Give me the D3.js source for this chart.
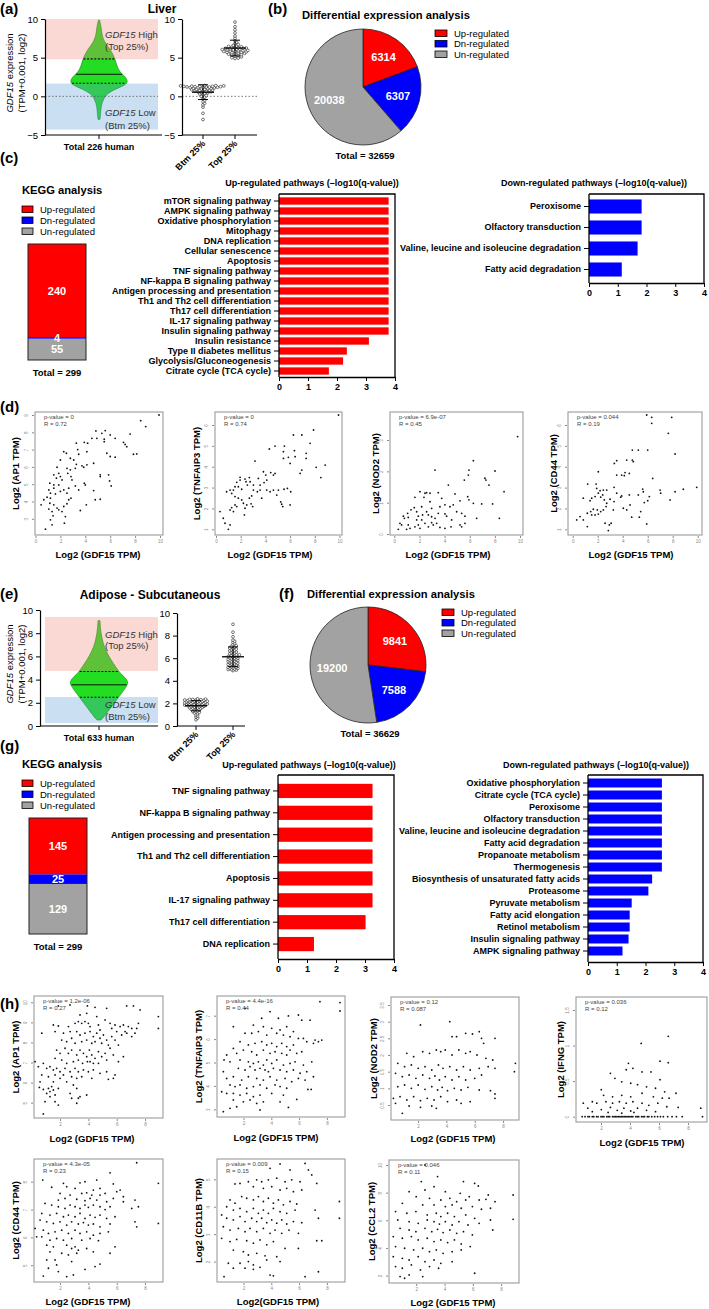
<!DOCTYPE html>
<html><head><meta charset="utf-8">
<script src="https://cdn.jsdelivr.net/npm/d3@7"></script>
<style>body{margin:0;background:#fff}svg{display:block}</style>
</head><body><svg id="c" width="709" height="1309"></svg>
<script>
// ---------------- DATA ----------------
const regLabels = ["Up-regulated","Dn-regulated","Un-regulated"];
const liverDEG = [6314, 6307, 20038];
const adiposeDEG = [9841, 7588, 19200];
const liverKEGG = [240, 4, 55];
const adiposeKEGG = [145, 25, 129];

const liverUpPathways = ["mTOR signaling pathway","AMPK signaling pathway","Oxidative phosphorylation","Mitophagy","DNA replication","Cellular senescence","Apoptosis","TNF signaling pathway","NF-kappa B signaling pathway","Antigen processing and presentation","Th1 and Th2 cell differentiation","Th17 cell differentiation","IL-17 signaling pathway","Insulin signaling pathway","Insulin resistance","Type II diabetes mellitus","Glycolysis/Gluconeogenesis","Citrate cycle (TCA cycle)"];
const liverUpValues = [3.78,3.78,3.78,3.78,3.78,3.78,3.78,3.78,3.78,3.78,3.78,3.78,3.78,3.78,3.1,2.34,2.21,1.72];
const liverDownPathways = ["Peroxisome","Olfactory transduction","Valine, leucine and isoleucine degradation","Fatty acid degradation"];
const liverDownValues = [1.83,1.83,1.69,1.14];
const adiposeUpPathways = ["TNF signaling pathway","NF-kappa B signaling pathway","Antigen processing and presentation","Th1 and Th2 cell differentiation","Apoptosis","IL-17 signaling pathway","Th17 cell differentiation","DNA replication"];
const adiposeUpValues = [3.26,3.26,3.26,3.26,3.26,3.26,3.02,1.24];
const adiposeDownPathways = ["Oxidative phosphorylation","Citrate cycle (TCA cycle)","Peroxisome","Olfactory transduction","Valine, leucine and isoleucine degradation","Fatty acid degradation","Propanoate metabolism","Thermogenesis","Biosynthesis of unsaturated fatty acids","Proteasome","Pyruvate metabolism","Fatty acid elongation","Retinol metabolism","Insulin signaling pathway","AMPK signaling pathway"];
const adiposeDownValues = [2.57,2.57,2.57,2.57,2.57,2.57,2.57,2.57,2.23,2.1,1.52,1.45,1.45,1.41,1.2];
const pathwayTicks = [0,1,2,3,4];

// violin profiles (expression level, relative density)
const liverViolinY = [9.87,9.01,8.15,7.07,5.99,4.91,3.84,3.19,2.54,1.9,1.47,1.03,0.39,-0.47,-1.34,-2.2,-2.97];
const liverViolinD = [0.5,2.2,2.7,5,12,16,18.3,20.7,26.7,29.3,26.7,18.3,8.3,4,2,1.7,1];
const liverQuartiles = [1.7, 2.85, 4.85];
const liverHigh = [4.8, 10], liverLow = [-4.3, 1.65];
const adiposeViolinY = [9.08,8.56,8.0,7.41,6.84,6.26,5.69,5.11,4.68,4.4,4.11,3.82,3.53,3.1,2.53,1.95,1.38,0.8,0.52];
const adiposeViolinD = [1,1.3,2,3.3,5.3,8.3,12,16.7,20,23.3,26.7,29,28.3,25,20,15,10,5,2];
const adiposeQuartiles = [2.48, 3.55, 4.7];
const adiposeHigh = [4.75, 9.4], adiposeLow = [0.25, 2.5];
const stripGroups = ["Btm 25%","Top 25%"];
const liverBtm = [1.4,1.38,1.35,1.35,1.32,1.3,1.3,1.28,1.25,1.25,1.22,1.2,1.2,1.18,1.15,1.12,1.1,1.1,1.05,1.0,1.0,0.95,0.9,0.9,0.85,0.8,0.8,0.75,0.7,0.7,0.65,0.6,0.55,0.5,0.45,0.4,0.3,0.2,0.1,0.0,-0.1,-0.3,-0.5,-0.7,-0.9,-1.1,-1.4,-2.2,-3.0];
const liverTop = [9.6,9.0,8.6,8.2,7.8,7.5,7.2,7.0,6.8,6.7,6.6,6.5,6.45,6.4,6.35,6.3,6.3,6.25,6.2,6.2,6.15,6.1,6.1,6.05,6.0,6.0,5.95,5.9,5.9,5.85,5.8,5.8,5.75,5.7,5.7,5.65,5.6,5.55,5.5,5.45,5.4,5.35,5.3,5.2,5.1,5.0,4.95,4.9];
const adiposeBtm = [2.4,2.38,2.35,2.35,2.33,2.3,2.3,2.28,2.25,2.25,2.22,2.2,2.2,2.18,2.15,2.15,2.12,2.1,2.1,2.08,2.05,2.05,2.02,2.0,2.0,1.98,1.95,1.95,1.92,1.9,1.9,1.88,1.85,1.85,1.82,1.8,1.8,1.78,1.75,1.72,1.7,1.68,1.65,1.62,1.6,1.58,1.55,1.5,1.48,1.45,1.4,1.35,1.3,1.25,1.2,1.15,1.1,1.0,0.9,0.8,0.7,0.55];
const adiposeTop = [9.0,8.3,7.9,7.6,7.5,7.4,7.3,7.2,7.1,7.05,7.0,6.9,6.85,6.8,6.75,6.7,6.65,6.6,6.55,6.5,6.45,6.4,6.35,6.3,6.3,6.25,6.2,6.15,6.1,6.1,6.05,6.0,6.0,5.95,5.9,5.9,5.85,5.8,5.8,5.75,5.7,5.7,5.65,5.6,5.6,5.55,5.5,5.5,5.45,5.4,5.4,5.35,5.3,5.3,5.25,5.2,5.2,5.15,5.1,5.1,5.05,5.0,5.0,4.95,4.9];

// scatter data [log2 GDF15, log2 gene]
const dAP1 = [[9.92,9.0],[8.45,8.67],[8.85,8.33],[4.85,8.08],[5.6,8.1],[5.33,7.94],[7.6,7.9],[6.0,7.85],[6.4,7.65],[4.93,7.65],[4.53,7.65],[5.52,7.6],[5.52,7.46],[3.28,7.37],[3.92,7.42],[4.19,7.37],[7.07,7.42],[7.33,7.17],[7.2,7.3],[2.27,6.88],[2.48,6.79],[3.47,6.73],[3.39,7.0],[4.13,6.88],[5.73,6.79],[7.87,6.73],[8.13,6.75],[2.0,6.4],[2.8,6.5],[3.07,6.4],[6.0,6.6],[6.4,6.56],[4.67,6.21],[4.13,6.12],[3.73,6.06],[3.28,6.15],[2.53,5.92],[2.8,5.83],[3.2,5.92],[3.87,5.98],[2.59,5.63],[2.85,5.44],[2.93,5.25],[1.73,5.98],[1.87,5.63],[1.68,5.35],[2.0,5.44],[2.13,5.25],[1.15,5.06],[1.47,4.96],[1.87,4.96],[1.47,4.77],[1.07,4.67],[1.2,4.48],[1.6,4.44],[2.0,4.58],[2.27,4.67],[2.53,4.48],[2.67,4.77],[3.92,5.06],[4.0,4.96],[4.67,4.63],[5.2,5.54],[5.2,5.44],[5.87,5.54],[5.95,5.19],[6.08,4.9],[0.45,3.81],[0.67,4.1],[0.93,4.25],[1.2,4.19],[1.15,3.9],[1.47,3.81],[1.73,3.62],[1.07,3.56],[1.33,3.42],[1.41,3.17],[1.2,2.94],[1.33,2.65],[0.8,2.4],[2.27,3.71],[1.87,3.52],[2.13,3.42],[2.4,3.13],[2.32,2.75],[2.53,3.87],[2.67,4.1],[2.85,4.19],[3.6,3.48],[4.08,3.81],[3.47,4.67],[4.8,4.1],[5.2,4.13],[3.2,4.9],[1.47,5.54]];
const dTNFAIP3 = [[9.92,6.48],[7.9,5.76],[6.95,5.52],[6.27,5.52],[4.78,4.99],[5.54,4.99],[5.46,4.72],[4.32,4.85],[7.62,5.12],[6.35,4.77],[6.41,4.48],[5.86,4.45],[5.46,4.4],[6.0,4.16],[7.3,4.64],[7.3,4.4],[8.84,4.08],[8.11,3.97],[8.49,3.48],[6.95,3.84],[6.81,3.68],[3.16,4.27],[3.84,3.76],[4.03,3.6],[4.43,3.72],[4.65,3.6],[4.78,3.68],[4.11,3.36],[3.89,3.24],[3.43,3.44],[2.7,3.48],[2.35,3.41],[2.43,3.28],[2.54,3.12],[1.95,3.36],[1.95,3.49],[1.68,3.25],[1.54,3.04],[1.81,3.04],[2.08,2.92],[1.41,2.88],[1.14,2.88],[0.86,2.8],[1.27,2.72],[1.54,2.57],[1.81,2.49],[2.08,2.41],[2.22,2.25],[2.49,2.17],[2.7,2.49],[2.89,2.6],[3.03,2.88],[3.35,2.8],[3.57,2.88],[2.84,2.22],[2.97,2.09],[2.35,2.01],[1.54,2.17],[1.27,2.04],[1.14,1.93],[1.41,1.85],[1.68,2.09],[0.32,1.85],[0.59,1.53],[1.14,1.21],[1.0,1.0],[0.73,1.29],[2.3,1.69],[4.11,2.88],[4.38,2.8],[4.65,2.88],[4.92,2.64],[5.05,2.88],[5.32,2.2],[5.41,2.09],[5.24,2.31],[6.0,2.17],[6.05,2.8],[5.51,2.92],[5.78,2.96],[3.7,2.49],[3.57,3.12],[3.03,3.12],[2.76,3.28]];
const dNOD2 = [[9.81,3.11],[6.29,2.34],[3.24,2.04],[5.94,2.04],[8.01,2.01],[5.89,1.88],[5.57,1.72],[7.21,1.78],[7.29,1.72],[7.53,1.56],[4.3,1.56],[8.73,1.35],[2.04,1.35],[2.44,1.3],[2.57,1.32],[2.84,1.3],[3.5,1.32],[4.83,1.28],[2.36,1.17],[1.64,1.17],[5.84,1.19],[5.94,1.09],[5.23,1.06],[4.69,0.93],[4.43,0.87],[4.03,0.93],[6.29,0.98],[6.95,0.96],[7.82,0.96],[3.63,0.87],[1.59,0.84],[2.18,0.87],[2.97,0.82],[1.33,0.77],[1.06,0.66],[0.72,0.57],[0.8,0.5],[1.11,0.53],[1.78,0.71],[1.91,0.57],[2.25,0.61],[2.57,0.71],[2.71,0.61],[2.97,0.55],[3.24,0.5],[3.5,0.66],[4.03,0.64],[4.16,0.57],[4.96,0.71],[5.36,0.66],[5.62,0.57],[4.56,0.45],[5.23,0.29],[5.36,0.23],[5.62,0.34],[6.55,0.5],[8.36,0.5],[0.45,0.34],[0.58,0.29],[1.11,0.29],[1.25,0.18],[1.64,0.23],[1.91,0.29],[2.04,0.18],[2.44,0.34],[2.71,0.23],[3.1,0.29],[3.37,0.34],[3.63,0.21],[4.03,0.18],[4.51,0.23],[0.32,0.15],[0.98,0.15],[2.18,0.45],[2.97,0.36],[1.78,0.45],[2.84,1.03],[3.77,1.14]];
const dCD44 = [[5.92,6.48],[6.32,6.37],[7.92,6.37],[6.32,6.08],[7.65,5.6],[4.77,4.8],[5.25,4.8],[6.0,4.8],[4.32,4.32],[4.77,4.32],[4.85,4.24],[8.19,4.61],[3.33,4.16],[3.52,4.29],[2.05,3.76],[4.19,3.72],[4.53,3.68],[3.92,3.6],[4.13,3.57],[3.52,3.6],[6.4,3.44],[1.2,3.17],[1.87,3.17],[2.19,2.85],[2.45,2.88],[2.72,2.88],[3.31,3.01],[3.52,2.73],[3.92,2.6],[4.53,2.65],[5.25,2.65],[5.6,2.93],[5.65,2.8],[6.99,2.88],[7.04,2.73],[8.19,2.8],[8.85,2.92],[9.92,3.01],[7.79,2.41],[6.13,2.57],[6.0,2.37],[5.73,2.28],[0.85,2.49],[1.39,2.37],[1.52,2.49],[1.79,2.57],[2.05,2.73],[2.24,2.54],[2.4,2.65],[2.53,2.41],[2.72,2.25],[2.99,2.44],[3.31,2.33],[2.67,2.09],[2.45,1.93],[2.24,1.85],[1.97,1.93],[1.65,1.96],[1.44,1.85],[1.17,1.77],[1.52,1.69],[1.79,1.69],[2.05,1.73],[3.25,1.93],[4.05,2.01],[4.59,2.17],[4.32,1.93],[5.44,1.85],[4.72,1.58],[5.33,1.58],[0.85,1.45],[0.59,1.61],[0.32,1.45],[1.17,1.13],[2.59,1.29],[2.93,1.21],[3.07,1.29],[2.85,0.94],[5.92,1.26],[3.84,2.54],[1.92,2.96]];

const hAP1 = [[1.88,9.82],[2.7,9.87],[3.93,9.82],[4.47,9.75],[5.29,9.7],[6.7,9.82],[7.18,9.82],[7.65,9.62],[8.94,9.29],[8.94,8.7],[1.53,8.87],[1.88,8.82],[2.59,8.79],[3.06,8.95],[3.29,9.04],[3.53,8.95],[3.76,9.04],[4.0,8.95],[4.12,8.79],[4.59,9.29],[4.71,8.87],[5.18,9.12],[5.53,8.95],[5.88,8.87],[6.24,8.79],[6.47,8.87],[6.82,8.79],[7.06,8.7],[7.41,8.7],[7.53,8.95],[0.71,8.46],[5.65,8.7],[6.0,8.54],[6.59,8.54],[4.82,8.62],[3.88,9.45],[3.41,9.37],[1.65,8.54],[2.24,8.46],[2.71,8.54],[3.18,8.54],[3.41,8.37],[3.76,8.46],[4.12,8.54],[4.35,8.29],[4.59,8.46],[4.82,8.21],[5.06,8.37],[5.29,8.12],[5.65,8.29],[5.88,8.12],[6.35,8.37],[6.71,8.46],[7.06,8.29],[7.29,8.46],[2.12,8.12],[2.47,8.04],[2.82,8.21],[3.06,7.96],[3.53,8.04],[3.88,8.12],[4.24,7.96],[4.47,8.04],[4.94,7.96],[5.41,7.87],[6.12,7.87],[1.76,7.62],[2.0,7.46],[2.35,7.71],[2.59,7.46],[2.82,7.62],[3.18,7.38],[3.41,7.62],[3.65,7.46],[3.88,7.29],[4.07,7.62],[4.24,7.38],[4.47,7.21],[4.71,7.54],[4.94,7.29],[5.18,7.46],[5.53,7.71],[5.76,7.38],[6.12,7.04],[6.47,7.29],[1.65,7.21],[2.12,7.12],[2.47,6.96],[2.94,7.04],[3.29,7.12],[3.59,6.96],[3.93,7.04],[4.12,7.04],[4.35,6.96],[4.71,6.96],[5.29,7.12],[0.24,7.04],[0.82,6.96],[0.47,6.79],[1.06,6.71],[1.29,6.79],[1.53,6.63],[1.76,6.71],[2.0,6.54],[2.35,6.71],[2.71,6.54],[3.06,6.71],[3.29,6.54],[3.65,6.63],[4.0,6.54],[4.35,6.63],[4.82,6.46],[5.29,6.54],[5.88,6.38],[0.71,6.38],[1.18,6.29],[1.65,6.38],[2.0,6.21],[2.24,6.38],[2.82,6.29],[3.18,6.21],[3.53,6.29],[4.24,6.21],[5.41,6.16],[5.76,6.21],[0.59,6.04],[1.53,6.04],[2.47,6.04],[2.94,5.88],[1.41,5.8],[0.54,5.76],[0.82,5.66],[1.18,5.71],[1.29,5.55],[1.53,5.63],[1.65,5.38],[1.06,5.46],[1.29,5.3],[2.71,5.46],[3.18,5.71],[3.29,5.22],[3.88,5.38],[2.82,5.22],[1.88,5.71],[0.94,5.05],[1.65,5.05],[3.18,4.97],[1.88,4.88],[0.82,4.44],[3.41,5.3]];
const hTNFAIP3 = [[8.94,7.56],[8.94,7.2],[7.5,7.6],[2.11,7.31],[3.91,7.17],[5.23,6.99],[5.95,7.03],[4.51,6.89],[3.31,6.89],[6.79,6.81],[6.19,6.81],[1.27,6.53],[2.71,6.6],[3.43,6.53],[4.03,6.46],[4.63,6.39],[5.11,6.53],[5.59,6.32],[2.11,6.25],[2.59,6.25],[3.07,6.32],[3.67,6.17],[4.39,6.25],[4.87,6.17],[5.35,6.1],[5.95,6.03],[6.31,6.03],[6.55,5.89],[7.15,5.96],[7.39,5.89],[7.63,5.96],[7.03,5.82],[1.75,5.89],[2.35,5.75],[2.83,5.82],[3.31,5.89],[3.67,5.75],[4.03,5.82],[4.39,5.68],[4.75,5.82],[5.11,5.68],[5.59,5.75],[1.27,5.6],[1.51,5.39],[1.99,5.53],[2.59,5.46],[2.95,5.32],[3.43,5.53],[3.91,5.39],[4.27,5.46],[4.75,5.39],[5.11,5.32],[5.35,5.53],[5.83,5.39],[6.19,5.46],[0.79,5.32],[0.6,5.11],[1.03,5.03],[1.75,5.11],[2.35,5.03],[2.71,4.96],[3.07,5.03],[3.43,4.89],[3.67,5.11],[4.03,4.96],[4.39,5.11],[4.87,4.89],[5.35,4.96],[5.71,5.03],[6.31,4.89],[6.91,5.03],[1.63,4.75],[2.11,4.68],[2.47,4.82],[2.83,4.68],[3.19,4.75],[3.55,4.68],[3.79,4.61],[4.15,4.75],[4.63,4.68],[5.11,4.61],[5.59,4.68],[6.07,4.54],[6.55,4.61],[0.55,4.61],[0.79,4.32],[1.27,4.39],[1.87,4.25],[2.35,4.39],[2.95,4.32],[3.43,4.25],[3.91,4.39],[4.39,4.25],[4.99,4.32],[5.47,4.18],[5.95,4.32],[6.43,4.25],[7.03,4.39],[1.03,4.04],[1.39,3.97],[1.75,4.04],[2.23,3.9],[2.71,3.97],[3.19,4.04],[3.67,3.9],[4.27,4.04],[4.63,3.97],[5.11,3.9],[6.63,3.85],[6.87,3.85],[0.43,3.75],[0.79,3.68],[1.27,3.68],[1.75,3.61],[2.23,3.68],[2.71,3.54],[3.19,3.61],[4.03,3.68],[4.87,3.61],[5.83,3.42],[1.27,3.4],[1.99,3.32],[2.47,3.4],[2.95,3.25],[3.43,3.32],[4.63,3.32],[5.23,3.08],[0.55,2.9],[1.03,3.04],[3.19,2.97],[1.51,3.11]];
const hNOD2 = [[4.24,3.0],[2.17,2.9],[4.4,2.55],[4.72,2.55],[5.36,2.65],[5.84,2.63],[6.32,2.7],[6.48,2.5],[6.63,2.35],[7.43,2.5],[1.21,2.05],[1.69,1.95],[2.33,2.1],[2.81,2.05],[3.29,2.15],[3.6,2.1],[3.92,2.15],[4.4,2.0],[4.88,2.15],[5.36,2.05],[5.68,2.1],[6.16,2.0],[6.79,1.9],[7.27,1.85],[8.87,1.75],[8.8,1.5],[0.57,1.75],[1.05,1.65],[1.53,1.7],[2.01,1.6],[2.49,1.65],[2.97,1.55],[3.44,1.7],[3.76,1.6],[4.24,1.65],[4.72,1.55],[5.2,1.65],[5.68,1.55],[6.32,1.6],[6.95,1.65],[7.43,1.6],[0.41,1.45],[0.89,1.35],[1.37,1.4],[1.85,1.3],[2.33,1.4],[2.81,1.3],[3.19,1.37],[3.51,1.25],[3.92,1.35],[4.4,1.25],[4.88,1.35],[5.36,1.25],[6.0,1.3],[6.48,1.4],[0.57,1.05],[1.05,1.1],[1.53,1.0],[2.01,1.1],[2.49,0.97],[2.97,1.05],[3.38,0.95],[3.7,1.03],[4.08,0.93],[4.56,1.0],[5.04,0.95],[5.52,1.03],[6.32,0.95],[7.11,0.93],[0.26,0.7],[0.73,0.75],[1.21,0.65],[1.69,0.75],[2.17,0.63],[2.65,0.7],[3.13,0.65],[3.6,0.75],[4.08,0.6],[4.72,0.65],[5.68,0.6],[7.43,0.7],[7.43,0.83],[0.41,0.55],[1.37,0.47],[2.17,0.43],[2.97,0.47],[0.89,0.25],[3.29,0.4],[5.04,0.55]];
const hIFNG = [[4.77,1.03],[6.64,1.13],[6.07,0.78],[6.64,0.76],[3.89,0.75],[4.2,0.68],[3.74,0.66],[4.83,0.63],[2.65,0.61],[6.07,0.52],[5.45,0.63],[2.96,0.54],[2.02,0.38],[3.43,0.49],[4.05,0.47],[4.52,0.45],[5.14,0.42],[5.76,0.4],[6.39,0.35],[7.17,0.33],[2.18,0.3],[2.8,0.28],[3.43,0.3],[4.05,0.28],[4.83,0.33],[5.61,0.28],[6.23,0.26],[6.7,0.26],[0.78,0.19],[1.4,0.21],[1.71,0.19],[2.34,0.21],[2.8,0.19],[3.27,0.21],[3.74,0.19],[4.2,0.21],[4.83,0.19],[5.3,0.16],[5.92,0.19],[6.54,0.14],[7.32,0.13],[1.09,0.12],[2.02,0.1],[2.65,0.13],[3.12,0.09],[3.58,0.12],[4.05,0.08],[4.52,0.12],[5.14,0.09],[5.76,0.07],[8.88,0.12],[1.4,0.07],[2.49,0.06],[3.43,0.05],[4.27,0.06],[0.7,0],[0.9,0],[1.1,0],[1.2,0],[1.4,0],[1.5,0],[1.7,0],[1.8,0],[2.0,0],[2.1,0],[2.2,0],[2.4,0],[2.5,0],[2.6,0],[2.8,0],[2.9,0],[3.0,0],[3.1,0],[3.2,0],[3.3,0],[3.4,0],[3.5,0],[3.6,0],[3.7,0],[3.8,0],[3.9,0],[4.0,0],[4.1,0],[4.2,0],[4.4,0],[4.5,0],[4.6,0],[4.8,0],[4.9,0],[5.0,0],[5.2,0],[5.3,0],[5.5,0],[5.7,0],[5.9,0],[6.1,0],[6.3,0],[6.6,0],[6.9,0],[7.2,0],[7.6,0],[9.0,0]];
const hCD44 = [[7.41,8.68],[5.53,8.32],[0.78,8.06],[3.41,7.96],[3.76,8.0],[4.59,8.06],[5.76,7.92],[8.94,7.94],[1.41,7.8],[2.24,7.94],[2.47,7.82],[3.06,7.76],[4.35,7.7],[4.82,7.76],[6.0,7.64],[6.24,7.7],[2.0,7.58],[2.71,7.52],[3.53,7.58],[3.88,7.6],[4.24,7.52],[4.82,7.52],[5.18,7.58],[6.47,7.46],[1.88,7.34],[2.35,7.4],[3.18,7.37],[3.76,7.32],[4.12,7.4],[4.59,7.34],[5.29,7.28],[5.76,7.4],[6.47,7.28],[7.29,7.34],[0.94,7.22],[1.41,7.16],[1.88,7.1],[2.35,7.04],[2.71,7.16],[3.06,7.1],[3.41,7.04],[3.76,7.16],[4.0,7.08],[4.35,7.16],[4.82,7.1],[5.18,7.0],[5.53,7.1],[7.06,7.04],[7.53,7.1],[0.71,6.86],[1.29,6.8],[1.76,6.86],[2.24,6.74],[2.59,6.8],[3.06,6.74],[3.41,6.86],[3.76,6.68],[4.12,6.8],[4.47,6.72],[4.82,6.8],[5.29,6.68],[5.88,6.74],[0.59,6.62],[1.06,6.56],[1.53,6.5],[2.0,6.56],[2.47,6.44],[2.82,6.56],[3.29,6.48],[3.65,6.53],[4.0,6.44],[4.35,6.48],[4.82,6.38],[5.53,6.48],[7.29,6.56],[8.94,6.5],[7.41,6.38],[0.24,6.32],[0.82,6.26],[1.18,6.14],[1.65,6.2],[2.12,6.26],[2.59,6.14],[3.06,6.26],[3.41,6.14],[3.88,6.2],[4.35,6.08],[4.82,6.14],[5.41,6.2],[0.35,6.02],[0.71,6.02],[1.29,5.9],[1.76,5.96],[2.24,5.9],[2.82,5.96],[3.53,5.9],[4.12,5.96],[4.71,5.88],[1.06,5.72],[1.53,5.66],[2.47,5.72],[2.82,5.6],[3.06,5.66],[3.29,5.54],[3.88,5.6],[4.35,5.48],[1.29,5.48],[2.12,5.43],[2.59,5.37],[3.18,5.43],[5.88,5.66],[5.53,5.43],[1.06,5.19],[1.65,5.19],[2.82,5.13],[4.82,5.04],[1.18,4.89],[1.76,5.01],[4.47,4.95],[0.82,4.61],[1.88,4.77],[2.47,4.59],[2.94,4.65],[3.76,4.85]];
const hCD11B = [[4.63,5.56],[6.43,5.58],[3.91,5.4],[5.35,5.34],[6.67,5.34],[6.91,5.16],[1.39,4.83],[1.75,4.85],[2.35,4.91],[2.95,4.98],[3.31,4.91],[3.79,4.98],[4.39,5.04],[4.99,4.91],[5.47,4.98],[6.07,4.91],[7.27,4.85],[2.71,4.73],[3.43,4.67],[4.03,4.73],[4.63,4.61],[5.11,4.67],[5.59,4.55],[6.19,4.61],[1.03,4.25],[1.39,4.13],[1.87,4.37],[2.23,4.31],[2.71,4.25],[3.07,4.37],[3.43,4.19],[3.79,4.31],[4.15,4.13],[4.51,4.25],[4.87,4.07],[5.35,4.19],[5.83,4.1],[8.9,4.19],[0.79,4.0],[1.27,3.88],[1.75,3.94],[2.23,3.82],[2.71,3.94],[3.07,3.76],[3.43,3.88],[3.79,3.76],[4.15,3.94],[4.63,3.82],[5.11,3.76],[5.71,3.88],[7.15,3.88],[0.43,3.7],[0.79,3.58],[1.27,3.52],[1.75,3.64],[2.11,3.46],[2.59,3.58],[2.95,3.46],[3.31,3.58],[3.67,3.42],[4.03,3.52],[4.39,3.4],[4.75,3.52],[5.11,3.37],[5.59,3.46],[6.19,3.42],[7.39,3.58],[8.9,3.58],[0.55,3.27],[1.03,3.15],[1.63,3.21],[2.11,3.09],[2.47,3.21],[2.95,3.09],[3.43,3.21],[3.91,3.03],[4.27,3.15],[4.75,3.03],[5.27,3.15],[5.95,3.03],[0.43,2.85],[1.03,2.73],[1.51,2.81],[2.23,2.76],[2.71,2.67],[3.19,2.79],[3.67,2.61],[4.15,2.73],[4.99,2.48],[5.95,2.48],[7.27,2.76],[7.63,2.76],[1.27,2.42],[1.99,2.36],[2.35,2.24],[2.95,2.3],[3.55,2.21],[4.39,2.18],[1.75,1.94],[2.35,2.0],[2.71,1.88],[3.67,2.06],[4.63,2.0],[0.91,1.94],[1.27,1.76],[2.11,1.76],[3.19,1.79],[3.91,1.51],[4.15,1.48],[6.43,1.45],[7.39,1.63],[0.6,1.45],[2.71,1.72]];
const hCCL2 = [[2.62,10.0],[3.51,9.16],[5.34,8.8],[6.39,8.48],[2.36,8.8],[1.5,8.07],[3.26,8.43],[2.62,8.19],[4.06,8.07],[5.11,7.95],[5.75,7.71],[6.13,8.67],[7.09,7.83],[8.85,7.83],[2.0,7.71],[2.94,7.59],[3.74,7.47],[4.38,7.59],[4.86,7.35],[5.5,7.47],[6.45,7.47],[6.93,7.52],[7.57,7.35],[1.02,7.23],[2.46,7.11],[3.26,7.11],[4.06,6.99],[4.54,7.11],[5.18,6.87],[5.97,6.99],[6.61,6.8],[7.25,6.87],[0.54,6.63],[1.34,6.51],[1.98,6.63],[2.78,6.39],[3.42,6.51],[3.74,6.27],[4.22,6.51],[4.7,6.27],[5.5,6.39],[6.13,6.14],[7.25,6.02],[8.85,6.07],[0.7,6.02],[1.5,5.9],[2.14,5.78],[2.78,6.02],[3.26,5.9],[3.64,5.73],[4.06,5.9],[4.54,5.66],[5.02,5.9],[5.66,5.66],[6.45,5.78],[7.41,5.3],[0.86,5.42],[1.5,5.3],[1.98,5.18],[2.62,5.42],[3.1,5.18],[3.51,5.35],[3.9,5.11],[4.38,5.3],[4.86,5.06],[5.34,5.18],[5.97,4.94],[0.38,4.82],[1.02,4.7],[1.66,4.82],[2.14,4.58],[2.78,4.7],[3.26,4.46],[3.74,4.58],[4.22,4.39],[4.7,4.58],[5.18,4.29],[5.82,4.1],[0.54,4.1],[1.18,3.98],[1.82,3.86],[2.46,3.98],[2.94,3.73],[3.42,3.86],[3.9,3.61],[4.54,3.73],[5.18,3.86],[0.38,3.37],[1.02,3.25],[1.5,3.13],[2.14,3.37],[2.62,3.01],[3.26,3.13],[3.74,2.89],[4.54,3.01],[0.54,2.65],[1.02,2.53],[1.66,2.77],[2.3,2.41],[2.94,2.65],[3.58,2.53],[0.86,1.93],[1.5,2.05],[2.46,1.93],[6.13,2.17],[1.18,1.81]];

// ---------------- DRAWING ----------------
const FONT = '"Liberation Sans", Arial, Helvetica, sans-serif';
const RED = "#ff0000", BLUE = "#0000ff", GRAY = "#a2a2a2";
const regColors = [RED, BLUE, GRAY];
const fmt = d3.format("~g");
const svg = d3.select("#c").attr("font-family", FONT);
svg.append("rect").attr("width",709).attr("height",1309).attr("fill","#fff");

function txt(g, x, y, s, o = {}) {
  const t = g.append("text").attr("x", x).attr("y", y).text(s)
    .attr("font-size", o.size || 9)
    .attr("font-weight", o.bold ? "bold" : "normal")
    .attr("text-anchor", o.anchor || "start")
    .attr("fill", o.fill || "#000");
  if (o.rot) t.attr("transform", `rotate(${o.rot},${x},${y})`);
  if (o.italic) t.attr("font-style", "italic");
  if (o.baseline) t.attr("dominant-baseline", o.baseline);
  return t;
}
function styleAxis(sel, size, bold, color) {
  sel.attr("font-family", FONT).attr("font-size", size);
  sel.selectAll("text").attr("font-weight", bold ? "bold" : "normal").attr("fill", color || "#000");
  sel.selectAll("line,path").attr("stroke", color || "#000");
}

// panel letters
[["(a)",0,14],["(b)",268,14],["(c)",0,163],["(d)",0,412],["(e)",0,599],["(f)",279,599],["(g)",0,751],["(h)",0,1009]]
  .forEach(([s,x,y]) => txt(svg, x, y, s, {size: 15, bold: true}));

// ---------- violin ----------
function violinPanel(cfg) {
  const g = svg.append("g");
  const y = d3.scaleLinear().domain(cfg.yDomain).range(cfg.yRange);
  const pts = cfg.vy.map((v, i) => ({v, d: cfg.vd[i]}));
  const w = d3.scaleLinear().domain([0, d3.max(cfg.vd)]).range([0, 29]);
  const area = d3.area().y(d => y(d.v)).x0(d => cfg.cx - w(d.d)).x1(d => cfg.cx + w(d.d)).curve(d3.curveBasis);
  g.append("path").datum(pts).attr("d", area).attr("fill", "#22dd22").attr("stroke", "#1b8f1b").attr("stroke-width", 0.7);
  g.append("rect").attr("x", cfg.rectX[0]).attr("width", cfg.rectX[1]-cfg.rectX[0])
    .attr("y", y(cfg.high[1])).attr("height", y(cfg.high[0]) - y(cfg.high[1]))
    .attr("fill", "#f08070").attr("opacity", 0.3);
  g.append("rect").attr("x", cfg.rectX[0]).attr("width", cfg.rectX[1]-cfg.rectX[0])
    .attr("y", y(cfg.low[1])).attr("height", y(cfg.low[0]) - y(cfg.low[1]))
    .attr("fill", "#5b9bd5").attr("opacity", 0.32);
  const asc = pts.slice().sort((a, b) => a.v - b.v);
  const dAt = d3.scaleLinear().domain(asc.map(p => p.v)).range(asc.map(p => p.d));
  cfg.quart.forEach((q, i) => {
    const hw = w(dAt(q)) * 0.97;
    g.append("line").attr("x1", cfg.cx - hw).attr("x2", cfg.cx + hw).attr("y1", y(q)).attr("y2", y(q))
      .attr("stroke", "#111").attr("stroke-width", i === 1 ? 1 : 1.1).attr("stroke-dasharray", i === 1 ? null : "2,1.6");
  });
  if (cfg.zeroLine) g.append("line").attr("x1", cfg.axisX).attr("x2", cfg.rectX[1]).attr("y1", y(0)).attr("y2", y(0))
    .attr("stroke", "#555").attr("stroke-width", 0.8).attr("stroke-dasharray", "1.5,2");
  const t1 = txt(g, 105, cfg.labY[0], "", {size: 9.5, fill: "#333"});
  t1.append("tspan").attr("font-style", "italic").text("GDF15");
  t1.append("tspan").text(" High");
  txt(g, 105, cfg.labY[1], "(Top 25%)", {size: 9.5, fill: "#333"});
  const t2 = txt(g, 105, cfg.labY[2], "", {size: 9.5, fill: "#333"});
  t2.append("tspan").attr("font-style", "italic").text("GDF15");
  t2.append("tspan").text(" Low");
  txt(g, 105, cfg.labY[3], "(Btm 25%)", {size: 9.5, fill: "#333"});
  const ax = g.append("g").attr("transform", `translate(${cfg.axisX},0)`)
    .call(d3.axisLeft(y).tickValues(cfg.yTicks).tickFormat(fmt).tickSize(4).tickSizeOuter(0));
  styleAxis(ax, 9.5, false);
  ax.select(".domain").attr("stroke-width", 1.2);
  const base = y(cfg.yDomain[0]);
  g.append("line").attr("x1", cfg.axisX).attr("x2", cfg.xEnd).attr("y1", base).attr("y2", base).attr("stroke", "#000").attr("stroke-width", 1.2);
  g.append("line").attr("x1", cfg.cx).attr("x2", cfg.cx).attr("y1", base).attr("y2", base + 4).attr("stroke", "#000").attr("stroke-width", 1);
  txt(g, cfg.cx, base + 15, cfg.total, {size: 9, bold: true, anchor: "middle"});
  const yc = (cfg.yRange[0] + cfg.yRange[1]) / 2 - 4;
  const tt = txt(g, 9, yc, "", {size: 9.5, anchor: "middle", rot: -90, baseline: "central"});
  tt.append("tspan").attr("font-style", "italic").text("GDF15");
  tt.append("tspan").text(" expression");
  txt(g, 21, yc, "(TPM+0.001, log2)", {size: 9.5, anchor: "middle", rot: -90, baseline: "central"});
}

// ---------- strip ----------
function stripPanel(cfg) {
  const g = svg.append("g");
  const y = d3.scaleLinear().domain(cfg.yDomain).range(cfg.yRange);
  const x = d3.scalePoint().domain(stripGroups).range(cfg.xPos);
  if (cfg.zeroLine) g.append("line").attr("x1", cfg.axisX).attr("x2", cfg.xEnd).attr("y1", y(0)).attr("y2", y(0))
    .attr("stroke", "#555").attr("stroke-width", 0.8).attr("stroke-dasharray", "1.5,2");
  stripGroups.forEach((name, gi) => {
    const vals = cfg.values[gi].slice().sort((a, b) => a - b);
    const placed = [];
    vals.forEach(v => {
      const py = y(v);
      let off = 0;
      for (let k = 0; k < 80; k++) {
        off = (k % 2 ? 1 : -1) * Math.ceil(k / 2) * 1.6;
        if (!placed.some(p => Math.hypot(p.x - off, p.y - py) < cfg.minDist)) break;
      }
      placed.push({x: off, y: py});
    });
    g.selectAll(null).data(placed).join("circle")
      .attr("cx", d => x(name) + d.x).attr("cy", d => d.y).attr("r", 1.4)
      .attr("fill", "#fff").attr("stroke", "#222").attr("stroke-width", 0.6);
    const m = d3.mean(cfg.values[gi]), sd = d3.deviation(cfg.values[gi]);
    const cx = x(name);
    g.append("line").attr("x1", cx - 11).attr("x2", cx + 11).attr("y1", y(m)).attr("y2", y(m)).attr("stroke", "#000").attr("stroke-width", 1.3);
    g.append("line").attr("x1", cx).attr("x2", cx).attr("y1", y(m - sd)).attr("y2", y(m + sd)).attr("stroke", "#000").attr("stroke-width", 1);
    [m - sd, m + sd].forEach(v => g.append("line").attr("x1", cx - 5).attr("x2", cx + 5).attr("y1", y(v)).attr("y2", y(v)).attr("stroke", "#000").attr("stroke-width", 1));
  });
  const ax = g.append("g").attr("transform", `translate(${cfg.axisX},0)`)
    .call(d3.axisLeft(y).tickValues(cfg.yTicks).tickFormat(fmt).tickSize(4).tickSizeOuter(0));
  styleAxis(ax, 9.5, false);
  ax.select(".domain").attr("stroke-width", 1.2);
  const base = y(cfg.yDomain[0]);
  g.append("line").attr("x1", cfg.axisX).attr("x2", cfg.xEnd).attr("y1", base).attr("y2", base).attr("stroke", "#000").attr("stroke-width", 1.2);
  stripGroups.forEach(name => {
    g.append("line").attr("x1", x(name)).attr("x2", x(name)).attr("y1", base).attr("y2", base + 4).attr("stroke", "#000");
    txt(g, x(name) + 3, base + 9, name, {size: 9, bold: true, anchor: "end", rot: -45});
  });
}

// ---------- pie ----------
function piePanel(cfg) {
  const g = svg.append("g").attr("transform", `translate(${cfg.cx},${cfg.cy})`);
  const pie = d3.pie().sort(null).value(d => d)(cfg.values);
  const arc = d3.arc().innerRadius(0).outerRadius(58);
  const lab = d3.arc().innerRadius(36).outerRadius(36);
  g.selectAll("path").data(pie).join("path").attr("d", arc)
    .attr("fill", (d, i) => regColors[i]).attr("stroke", "#222").attr("stroke-width", 0.8);
  g.selectAll("text.v").data(pie).join("text").attr("class", "v")
    .attr("transform", d => `translate(${lab.centroid(d)})`)
    .attr("text-anchor", "middle").attr("dominant-baseline", "central")
    .attr("font-size", 11).attr("font-weight", "bold").attr("fill", "#fff").text(d => d.data);
  txt(svg, cfg.cx + 2, cfg.cy + 72, "Total = " + d3.sum(cfg.values), {size: 9.5, bold: true, anchor: "middle"});
  txt(svg, cfg.titleX, cfg.titleY, "Differential expression analysis", {size: 11.2, bold: true});
  regLabels.forEach((l, i) => {
    svg.append("rect").attr("x", cfg.legX).attr("y", cfg.legY + i * 10.5 - 3).attr("width", 12).attr("height", 6.5)
      .attr("fill", regColors[i]).attr("stroke", "#000").attr("stroke-width", 0.8);
    txt(svg, cfg.legX + 19, cfg.legY + i * 10.5 + 3.5, l, {size: 9.5});
  });
}

// ---------- stacked bar ----------
function stackPanel(cfg) {
  const g = svg.append("g");
  txt(g, 22, cfg.titleY, "KEGG analysis", {size: 11.2, bold: true});
  regLabels.forEach((l, i) => {
    g.append("rect").attr("x", 22).attr("y", cfg.legY + i * 11 - 3).attr("width", 11).attr("height", 6.5)
      .attr("fill", regColors[i]).attr("stroke", "#000").attr("stroke-width", 0.8);
    txt(g, 40, cfg.legY + i * 11 + 3.5, l, {size: 9.5});
  });
  const total = d3.sum(cfg.values);
  const y = d3.scaleLinear().domain([0, total]).range(cfg.yr);
  const order = [2, 1, 0];
  let cum = 0;
  const segs = order.map(i => { const s = {i, v: cfg.values[i], y0: cum, y1: cum + cfg.values[i]}; cum += cfg.values[i]; return s; });
  g.selectAll("rect.s").data(segs).join("rect").attr("class", "s")
    .attr("x", cfg.x0).attr("width", cfg.x1 - cfg.x0)
    .attr("y", d => y(d.y1)).attr("height", d => y(d.y0) - y(d.y1))
    .attr("fill", d => regColors[d.i]);
  g.append("rect").attr("x", cfg.x0).attr("width", cfg.x1 - cfg.x0).attr("y", y(total)).attr("height", y(0) - y(total))
    .attr("fill", "none").attr("stroke", "#222").attr("stroke-width", 1);
  segs.forEach(d => txt(g, (cfg.x0 + cfg.x1) / 2, (y(d.y0) + y(d.y1)) / 2, d.v, {size: 11, bold: true, anchor: "middle", baseline: "central", fill: "#fff"}));
  txt(g, (cfg.x0 + cfg.x1) / 2, cfg.yr[0] + 16, "Total = " + total, {size: 9.5, bold: true, anchor: "middle"});
}

// ---------- horizontal bars ----------
function hbarPanel(cfg) {
  const g = svg.append("g");
  const x = d3.scaleLinear().domain([0, 4]).range(cfg.xr);
  const y = d3.scaleBand().domain(cfg.cats).range(cfg.yr).paddingInner(cfg.pad).paddingOuter(cfg.pad / 2);
  g.selectAll("rect.b").data(cfg.cats).join("rect").attr("class", "b")
    .attr("x", x(0)).attr("y", d => y(d)).attr("height", y.bandwidth())
    .attr("width", (d, i) => x(cfg.values[i]) - x(0)).attr("fill", cfg.color);
  g.append("path").attr("d", `M${x(0)},${cfg.top}H${x(4)}V${cfg.base}`).attr("fill", "none").attr("stroke", "#000").attr("stroke-width", 1.3);
  const ay = g.append("g").attr("transform", `translate(${x(0)},0)`).call(d3.axisLeft(y).tickSize(5).tickSizeOuter(0));
  styleAxis(ay, 9, true);
  ay.select(".domain").attr("d", `M0,${cfg.top}V${cfg.base}`).attr("stroke-width", 1.3);
  const ax = g.append("g").attr("transform", `translate(0,${cfg.base})`)
    .call(d3.axisBottom(x).tickValues(pathwayTicks).tickFormat(d3.format("d")).tickSize(4).tickSizeOuter(0));
  styleAxis(ax, 9, true);
  ax.select(".domain").attr("stroke-width", 1.3);
  txt(g, cfg.titleX, cfg.titleY, cfg.title, {size: 9, bold: true, anchor: "middle"});
}

// ---------- scatter ----------
function scatterPanel(cfg) {
  const g = svg.append("g");
  const [fx0, fy0, fx1, fy1] = cfg.frame;
  const x = d3.scaleLinear().domain([0, 10]).range(cfg.xr);
  const y = d3.scaleLinear().domain(cfg.yd).range(cfg.yr);
  g.append("rect").attr("x", fx0).attr("y", fy0).attr("width", fx1 - fx0).attr("height", fy1 - fy0)
    .attr("fill", "none").attr("stroke", "#9c9c9c").attr("stroke-width", 1.1);
  g.selectAll("circle").data(cfg.data).join("circle")
    .attr("cx", d => x(d[0])).attr("cy", d => y(d[1])).attr("r", 0.9).attr("fill", "#111");
  const ax = g.append("g").attr("transform", `translate(0,${fy1 + 1})`)
    .call(d3.axisBottom(x).tickValues(cfg.xt).tickFormat(fmt).tickSize(2).tickPadding(2));
  styleAxis(ax, 4.5, false, "#888");
  ax.select(".domain").remove();
  const ay = g.append("g").attr("transform", `translate(${fx0 - 1},0)`)
    .call(d3.axisLeft(y).tickValues(cfg.yt).tickFormat(fmt).tickSize(2).tickPadding(2));
  styleAxis(ay, 4.5, false, "#888");
  ay.select(".domain").remove();
  ay.selectAll("text").attr("transform", "rotate(-90)").attr("text-anchor", "middle").attr("x", 0).attr("y", -6).attr("dy", "0");
  txt(g, fx0 + 9, fy0 + 7, cfg.p, {size: 6, fill: "#444"});
  txt(g, fx0 + 9, fy0 + 14, cfg.r, {size: 6, fill: "#444"});
  txt(g, cfg.xlx, cfg.xly, cfg.xlab || "Log2 (GDF15 TPM)", {size: 9.5, bold: true, anchor: "middle"});
  txt(g, cfg.ylx, (fy0 + fy1) / 2, cfg.ylab, {size: 9.5, bold: true, anchor: "middle", rot: -90, baseline: "central"});
}

// ===== (a) =====
txt(svg, 162, 13, "Liver", {size: 12, bold: true, anchor: "middle"});
violinPanel({yDomain: [-5, 10], yRange: [135, 19], yTicks: [-5, 0, 5, 10], cx: 99, axisX: 45, xEnd: 162,
  vy: liverViolinY, vd: liverViolinD, quart: liverQuartiles, high: liverHigh, low: liverLow, rectX: [45, 158],
  zeroLine: true, labY: [38, 50, 116, 129], total: "Total 226 human"});
stripPanel({yDomain: [-5, 10], yRange: [135, 19], yTicks: [-5, 0, 5, 10], axisX: 182, xEnd: 257, xPos: [203, 235],
  values: [liverBtm, liverTop], minDist: 2.2, zeroLine: true});

// ===== (b) =====
piePanel({cx: 363, cy: 87, values: liverDEG, titleX: 302, titleY: 19, legX: 435, legY: 33});

// ===== (c) =====
stackPanel({titleY: 194, legY: 209, values: liverKEGG, x0: 28, x1: 86, yr: [360, 244]});
hbarPanel({cats: liverUpPathways, values: liverUpValues, color: RED, xr: [279, 395], yr: [196, 376], pad: 0.27,
  top: 194, base: 377, title: "Up-regulated pathways (–log10(q-value))", titleX: 312, titleY: 186});
hbarPanel({cats: liverDownPathways, values: liverDownValues, color: BLUE, xr: [589, 704], yr: [196, 280], pad: 0.33,
  top: 194, base: 283, title: "Down-regulated pathways (–log10(q-value))", titleX: 594, titleY: 186});

// ===== (d) =====
scatterPanel({data: dAP1, frame: [35, 412, 163, 535], xr: [35.5, 160], yd: [3, 9], yr: [518.8, 415], xt: [0, 2, 4, 6, 8, 10], yt: [3, 4, 5, 6, 7, 8, 9],
  p: "p-value = 0", r: "R = 0.72", ylab: "Log2 (AP1 TPM)", ylx: 15, xlx: 98, xly: 558});
scatterPanel({data: dTNFAIP3, frame: [215, 412, 342, 535], xr: [216, 339.5], yd: [1, 6], yr: [529.3, 425], xt: [0, 2, 4, 6, 8, 10], yt: [1, 2, 3, 4, 5, 6],
  p: "p-value = 0", r: "R = 0.74", ylab: "Log2 (TNFAIP3 TPM)", ylx: 196, xlx: 270, xly: 558});
scatterPanel({data: dNOD2, frame: [390, 412, 523, 535], xr: [394.3, 520], yd: [0, 3], yr: [534, 440], xt: [0, 2, 4, 6, 8, 10], yt: [0, 1, 2, 3],
  p: "p-value = 6.9e-07", r: "R = 0.45", ylab: "Log2 (NOD2 TPM)", ylx: 375, xlx: 448, xly: 558});
scatterPanel({data: dCD44, frame: [568, 412, 702, 535], xr: [572.7, 697.7], yd: [1, 6], yr: [529.3, 425], xt: [0, 2, 4, 6, 8, 10], yt: [1, 2, 3, 4, 5, 6],
  p: "p-value = 0.044", r: "R = 0.19", ylab: "Log2 (CD44 TPM)", ylx: 553, xlx: 631, xly: 558});

// ===== (e) =====
txt(svg, 150, 599, "Adipose - Subcutaneous", {size: 12, bold: true, anchor: "middle"});
violinPanel({yDomain: [0, 10], yRange: [726, 610], yTicks: [0, 2, 4, 6, 8, 10], cx: 99, axisX: 40, xEnd: 158,
  vy: adiposeViolinY, vd: adiposeViolinD, quart: adiposeQuartiles, high: adiposeHigh, low: adiposeLow, rectX: [45, 158],
  zeroLine: false, labY: [638, 649, 708, 720], total: "Total 633 human"});
stripPanel({yDomain: [0, 10], yRange: [726, 613], yTicks: [0, 2, 4, 6, 8, 10], axisX: 177, xEnd: 245, xPos: [196, 233],
  values: [adiposeBtm, adiposeTop], minDist: 1.9, zeroLine: false});

// ===== (f) =====
piePanel({cx: 368, cy: 665, values: adiposeDEG, titleX: 307, titleY: 598, legX: 442, legY: 612});

// ===== (g) =====
stackPanel({titleY: 768, legY: 783, values: adiposeKEGG, x0: 29, x1: 87, yr: [934, 818]});
hbarPanel({cats: adiposeUpPathways, values: adiposeUpValues, color: RED, xr: [278, 394], yr: [780, 955], pad: 0.35,
  top: 775, base: 959, title: "Up-regulated pathways (–log10(q-value))", titleX: 309, titleY: 768});
hbarPanel({cats: adiposeDownPathways, values: adiposeDownValues, color: BLUE, xr: [588, 703], yr: [777, 957], pad: 0.25,
  top: 775, base: 962, title: "Down-regulated pathways (–log10(q-value))", titleX: 596, titleY: 768});

// ===== (h) =====
scatterPanel({data: hAP1, frame: [34, 996, 163, 1118], xr: [31.7, 173.4], yd: [5, 10], yr: [1102.65, 1002.3], xt: [2, 4, 6, 8], yt: [5, 6, 7, 8, 9, 10],
  p: "p-value = 1.2e-06", r: "R = 0.27", ylab: "Log2 (AP1 TPM)", ylx: 15, xlx: 92, xly: 1142});
scatterPanel({data: hTNFAIP3, frame: [217, 996, 345, 1117], xr: [215.7, 354.7], yd: [3, 7], yr: [1109.3, 1015.7], xt: [2, 4, 6, 8], yt: [3, 4, 5, 6, 7],
  p: "p-value = 4.4e-16", r: "R = 0.44", ylab: "Log2 (TNFAIP3 TPM)", ylx: 198, xlx: 276, xly: 1141});
scatterPanel({data: hNOD2, frame: [391, 997, 519, 1120], xr: [389.7, 531.4], yd: [0.5, 3.5], yr: [1105, 1005], xt: [2, 4, 6, 8], yt: [0.5, 1, 1.5, 2, 2.5, 3, 3.5],
  p: "p-value = 0.12", r: "R = 0.087", ylab: "Log2 (NOD2 TPM)", ylx: 373, xlx: 453, xly: 1142});
scatterPanel({data: hIFNG, frame: [576, 997, 707, 1122], xr: [572, 717], yd: [0, 1.5], yr: [1116.7, 1010], xt: [2, 4, 6, 8], yt: [0, 0.5, 1, 1.5],
  p: "p-value = 0.036", r: "R = 0.12", ylab: "Log2 (IFNG TPM)", ylx: 560, xlx: 642, xly: 1146});
scatterPanel({data: hCD44, frame: [34, 1159, 163, 1282], xr: [31.7, 173.4], yd: [5, 8], yr: [1265.2, 1181.7], xt: [2, 4, 6, 8], yt: [5, 6, 7, 8],
  p: "p-value = 4.3e-05", r: "R = 0.23", ylab: "Log2 (CD44 TPM)", ylx: 15, xlx: 88, xly: 1305});
scatterPanel({data: hCD11B, frame: [217, 1159, 345, 1282], xr: [215.7, 354.7], yd: [2, 5], yr: [1261.6, 1179.3], xt: [2, 4, 6, 8], yt: [2, 3, 4, 5],
  p: "p-value = 0.009", r: "R = 0.15", ylab: "Log2 (CD11B TPM)", ylx: 198, xlab: "Log2(GDF15 TPM)", xlx: 278, xly: 1305});
scatterPanel({data: hCCL2, frame: [389, 1160, 519, 1283], xr: [387.9, 529.4], yd: [2, 10], yr: [1275.6, 1165], xt: [2, 4, 6, 8], yt: [2, 4, 6, 8, 10],
  p: "p-value = 0.046", r: "R = 0.11", ylab: "Log2 (CCL2 TPM)", ylx: 371, xlx: 453, xly: 1306});
</script></body></html>
